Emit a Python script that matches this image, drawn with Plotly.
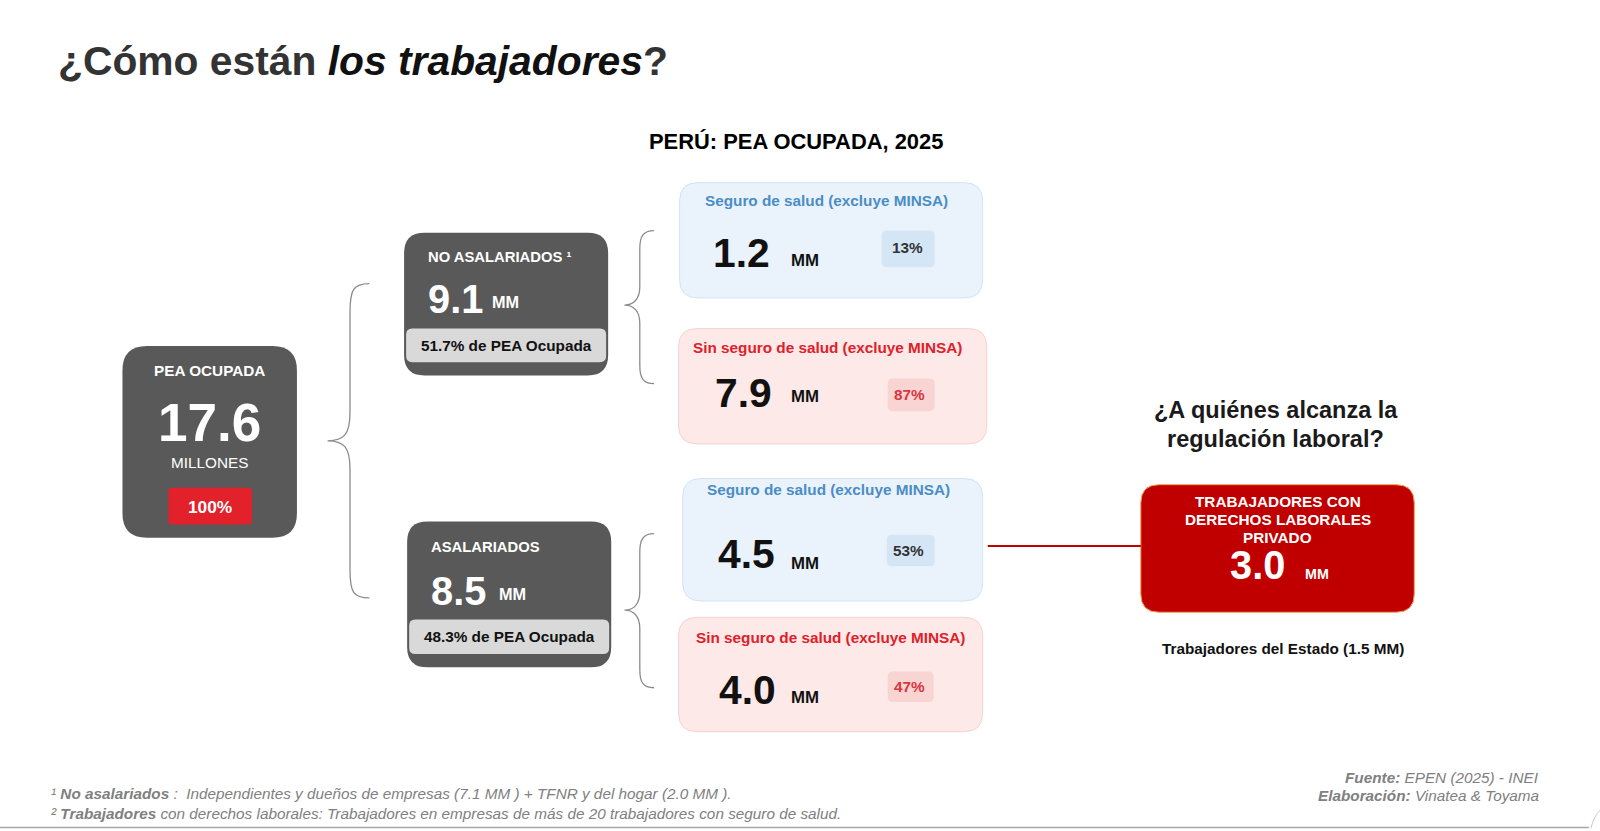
import plotly.graph_objects as go

# ---------------- data ----------------
total_value = 17.6
total_unit = "MILLONES"
total_share = 100
group_names = ["NO ASALARIADOS ¹", "ASALARIADOS"]
group_values = [9.1, 8.5]
group_shares = [51.7, 48.3]
card_titles = ["Seguro de salud (excluye MINSA)", "Sin seguro de salud (excluye MINSA)",
               "Seguro de salud (excluye MINSA)", "Sin seguro de salud (excluye MINSA)"]
card_values = [1.2, 7.9, 4.5, 4.0]
card_shares = [13, 87, 53, 47]
card_kinds = ["con", "sin", "con", "sin"]
derechos_value = 3.0
estado_value = 1.5
no_asal_parts = [7.1, 2.0]
min_firm_size = 20

# ---------------- geometry / style ----------------
S = 1600 / 1568.0
W, H = 1600, 831
FONT = "Liberation Sans, Arial, sans-serif"

def F(s):
    return round(s * S, 1)

def rrect(x0, y0, x1, y1, r):
    return (f"M {x0+r},{y0} L {x1-r},{y0} Q {x1},{y0} {x1},{y0+r} L {x1},{y1-r} "
            f"Q {x1},{y1} {x1-r},{y1} L {x0+r},{y1} Q {x0},{y1} {x0},{y1-r} "
            f"L {x0},{y0+r} Q {x0},{y0} {x0+r},{y0} Z")

def brace(xe, xv, xt, yt, ym, yb, k=22):
    return (f"M {xe},{yt} C {xv+3},{yt} {xv},{yt+6} {xv},{yt+k} "
            f"L {xv},{ym-k} C {xv},{ym-6} {xv-6},{ym} {xt},{ym} "
            f"C {xv-6},{ym} {xv},{ym+6} {xv},{ym+k} "
            f"L {xv},{yb-k} C {xv},{yb-6} {xv+3},{yb} {xe},{yb}")

shapes = []
anns = []

def box(x0, y0, x1, y1, r, fill, line=None, lw=1):
    shapes.append(dict(type="path", path=rrect(x0, y0, x1, y1, r), xref="x", yref="y",
                       fillcolor=fill, line=dict(color=line or fill, width=lw if line else 0),
                       layer="below"))

def text(x, y, t, size, color="#000000", anchor="center", bold=True, italic=False):
    if italic:
        t = f"<i>{t}</i>"
    if bold:
        t = f"<b>{t}</b>"
    anns.append(dict(x=x, y=y, xref="x", yref="y", text=t, showarrow=False,
                     xanchor=anchor, yanchor="middle",
                     font=dict(family=FONT, size=F(size), color=color)))

DARK = "#595959"
LIGHT = "#d9d9d9"

# Title and subtitle
text(55, 60, '¿Cómo están <span style="color:#111111"><i>los trabajadores</i></span>?', 40,
     color="#333333", anchor="left")
text(780, 139, "PERÚ: PEA OCUPADA, 2025", 21.5)

# Total box
box(120, 339, 291, 527, 24, DARK)
text(205, 363, "PEA OCUPADA", 15, "#ffffff")
text(205, 414, f"{total_value:.1f}", 52, "#ffffff")
text(205, 453, total_unit, 15, "#ffffff", bold=False)
box(165, 478, 247, 514, 4, "#e3212b")
text(206, 497, f"{total_share}%", 17, "#ffffff")

# Big brace
shapes.append(dict(type="path", path=brace(362, 343, 321, 278, 432, 586, 28), xref="x", yref="y",
                   line=dict(color="#8c8c8c", width=1.3)))

# Group boxes
groups_geo = [
    dict(box=(396, 228, 596, 368), name=(417, 252), val=(417, 293), mm=(480, 296),
         inner=(398, 322, 594, 355), share=(496, 339)),
    dict(box=(399, 511, 599, 654), name=(420, 536), val=(420, 579), mm=(487, 582),
         inner=(401, 607, 597, 641), share=(499, 624)),
]
for g, name, v, sh in zip(groups_geo, group_names, group_values, group_shares):
    box(*g["box"], 20, DARK)
    text(*g["name"], name, 14.5, "#ffffff", anchor="left")
    text(*g["val"], f"{v:.1f}", 39, "#ffffff", anchor="left")
    text(*g["mm"], "MM", 16, "#ffffff", anchor="left")
    box(*g["inner"], 6, LIGHT)
    text(*g["share"], f"{sh:.1f}% de PEA Ocupada", 15, "#111111")

# Small braces
shapes.append(dict(type="path", path=brace(641, 627, 612, 226, 299, 376, 18), xref="x", yref="y",
                   line=dict(color="#8c8c8c", width=1.3)))
shapes.append(dict(type="path", path=brace(641, 627, 612, 523, 598, 674, 18), xref="x", yref="y",
                   line=dict(color="#8c8c8c", width=1.3)))

# Cards
cards_geo = [
    dict(box=(666, 179, 963, 292), title=(810, 196), val=(697, 248), mm=(773, 255),
         pbox=(864, 226, 916, 262), pct=(889, 243)),
    dict(box=(665, 322, 967, 435), title=(811, 341), val=(699, 385), mm=(773, 389),
         pbox=(870, 371, 916, 403), pct=(891, 387)),
    dict(box=(669, 469, 963, 589), title=(812, 480), val=(702, 543), mm=(773, 552),
         pbox=(869, 524, 916, 555), pct=(890, 539)),
    dict(box=(665, 605, 963, 717), title=(814, 625), val=(703, 676), mm=(773, 684),
         pbox=(870, 658, 915, 688), pct=(891, 673)),
]
STYLE = {
    "con": dict(fill="#eaf3fc", line="#d3e3f2", title="#4a8dc6", pfill="#d4e6f6", ptext="#333333"),
    "sin": dict(fill="#fde9e8", line="#f5d2d0", title="#e0202a", pfill="#f8d4d3", ptext="#d9363e"),
}
for c, t, v, p, k in zip(cards_geo, card_titles, card_values, card_shares, card_kinds):
    st = STYLE[k]
    box(*c["box"], 18, st["fill"], st["line"], 1)
    text(*c["title"], t, 15, st["title"])
    text(*c["val"], f"{v:.1f}", 40, "#111111", anchor="left")
    text(*c["mm"], "MM", 16.5, "#111111", anchor="left")
    box(*c["pbox"], 5, st["pfill"])
    text(*c["pct"], f"{p}%", 15, st["ptext"])

# Connector line
shapes.append(dict(type="line", x0=968, y0=535, x1=1118, y1=535, xref="x", yref="y",
                   line=dict(color="#c00000", width=2)))

# Right side
text(1250, 402, "¿A quiénes alcanza la", 23, "#1a1a1a")
text(1250, 430, "regulación laboral?", 23, "#1a1a1a")
box(1118, 475, 1386, 600, 18, "#c00000", "#f0a050", 1)
text(1252, 491, "TRABAJADORES CON", 15, "#ffffff")
text(1252, 509, "DERECHOS LABORALES", 15, "#ffffff")
text(1252, 527, "PRIVADO", 15, "#ffffff")
text(1232, 554, f"{derechos_value:.1f}", 39, "#ffffff")
text(1277, 563, "MM", 14, "#ffffff", anchor="left")
text(1257, 636, f"Trabajadores del Estado ({estado_value:.1f} MM)", 15, "#111111")

# Footnotes
GRAY = "#808080"
text(48, 778, f"¹ <b>No asalariados</b> :  Independientes y dueños de empresas ({no_asal_parts[0]:.1f} MM ) + TFNR y del hogar ({no_asal_parts[1]:.1f} MM ).",
     15, GRAY, anchor="left", bold=False, italic=True)
text(48, 797, f"² <b>Trabajadores</b> con derechos laborales: Trabajadores en empresas de más de {min_firm_size} trabajadores con seguro de salud.",
     15, GRAY, anchor="left", bold=False, italic=True)
text(1510, 762, "<b>Fuente:</b> EPEN (2025) - INEI", 15, GRAY, anchor="right", bold=False, italic=True)
text(1510, 780, "<b>Elaboración:</b> Vinatea &amp; Toyama", 15, GRAY, anchor="right", bold=False, italic=True)

# Bottom rule + corner
shapes.append(dict(type="line", x0=0, y0=811, x1=1557, y1=811, xref="x", yref="y",
                   line=dict(color="#a6a6a6", width=1.5)))
shapes.append(dict(type="path", path="M 1559,812 Q 1562,800 1568,794", xref="x", yref="y",
                   line=dict(color="#c8c8c8", width=1)))

fig = go.Figure(go.Scatter(x=[], y=[], hoverinfo="skip"))
fig.update_layout(
    width=W, height=H, margin=dict(l=0, r=0, t=0, b=0),
    paper_bgcolor="#ffffff", plot_bgcolor="#ffffff", showlegend=False,
    xaxis=dict(range=[0, W / S], visible=False, fixedrange=True),
    yaxis=dict(range=[H / S, 0], visible=False, fixedrange=True),
    shapes=shapes, annotations=anns,
)
fig.write_html("out.html", config={"displayModeBar": False},
               post_script="document.body.style.margin='0px';document.body.style.overflow='hidden';")
